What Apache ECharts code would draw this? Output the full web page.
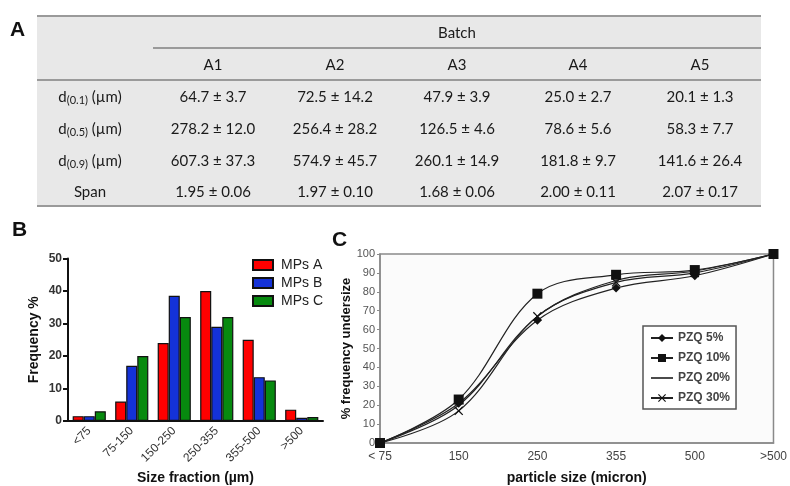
<!DOCTYPE html>
<html><head><meta charset="utf-8">
<script src="https://cdn.jsdelivr.net/npm/echarts@6/dist/echarts.min.js"></script>
<style>html,body{margin:0;padding:0;background:#fff}#c{width:790px;height:486px}</style>
</head><body><div id="c"></div>
<script>
// ---- Table A data ----
const batchHeader = 'Batch';
const batches = ['A1', 'A2', 'A3', 'A4', 'A5'];
const rowLabels = [['d', '(0.1)', ' (µm)'], ['d', '(0.5)', ' (µm)'], ['d', '(0.9)', ' (µm)'], ['Span', '', '']];
const rowD01 = ['64.7 ± 3.7', '72.5 ± 14.2', '47.9 ± 3.9', '25.0 ± 2.7', '20.1 ± 1.3'];
const rowD05 = ['278.2 ± 12.0', '256.4 ± 28.2', '126.5 ± 4.6', '78.6 ± 5.6', '58.3 ± 7.7'];
const rowD09 = ['607.3 ± 37.3', '574.9 ± 45.7', '260.1 ± 14.9', '181.8 ± 9.7', '141.6 ± 26.4'];
const rowSpan = ['1.95 ± 0.06', '1.97 ± 0.10', '1.68 ± 0.06', '2.00 ± 0.11', '2.07 ± 0.17'];
const tableRows = [rowD01, rowD05, rowD09, rowSpan];

// ---- Panel B data ----
const sizeFractions = ['<75', '75-150', '150-250', '250-355', '355-500', '>500'];
const mpsA = [1.5, 6, 24, 40, 25, 3.5];
const mpsB = [1.5, 17, 38.5, 29, 13.5, 1];
const mpsC = [3, 20, 32, 32, 12.5, 1.2];
const freqTicks = [0, 10, 20, 30, 40, 50];

// ---- Panel C data ----
const particleSizes = ['< 75', '150', '250', '355', '500', '>500'];
const pzq5 = [0, 21, 65, 82, 88.5, 100];
const pzq10 = [0, 23, 79, 89, 91.5, 100];
const pzq20 = [0, 20, 67, 86, 91, 100];
const pzq30 = [0, 17, 67, 85, 90, 100];
const undersizeTicks = [0, 10, 20, 30, 40, 50, 60, 70, 80, 90, 100];

const chart = echarts.init(document.getElementById('c'), null, {renderer: 'canvas'});

const tFont = 'Lato, "Noto Sans", sans-serif';
const colX = [213, 335, 457, 578, 700];
const rowY = [97, 129, 161, 192];
const graphics = [];
// table background and rules
graphics.push({type: 'rect', shape: {x: 37, y: 16, width: 724, height: 190}, style: {fill: '#e8e8e8'}, silent: true});
graphics.push({type: 'line', shape: {x1: 37, y1: 16, x2: 761, y2: 16}, style: {stroke: '#9a9a9a', lineWidth: 2}});
graphics.push({type: 'line', shape: {x1: 153, y1: 48, x2: 761, y2: 48}, style: {stroke: '#9a9a9a', lineWidth: 2}});
graphics.push({type: 'line', shape: {x1: 37, y1: 80, x2: 761, y2: 80}, style: {stroke: '#9a9a9a', lineWidth: 2}});
graphics.push({type: 'line', shape: {x1: 37, y1: 206, x2: 761, y2: 206}, style: {stroke: '#9a9a9a', lineWidth: 2}});
const cellFont = '15px ' + tFont;
graphics.push({type: 'text', x: 457, y: 33, style: {text: batchHeader, fill: '#1a1a1a', font: cellFont, textAlign: 'center', textVerticalAlign: 'middle'}});
batches.forEach((b, i) => graphics.push({type: 'text', x: colX[i], y: 65, style: {text: b, fill: '#1a1a1a', font: cellFont, textAlign: 'center', textVerticalAlign: 'middle'}}));
rowLabels.forEach((r, j) => {
  graphics.push({type: 'text', x: 90, y: rowY[j], style: {
    text: r[1] ? '{m|' + r[0] + '}{s|' + r[1] + '}{m|' + r[2] + '}' : '{m|' + r[0] + '}',
    rich: {m: {fontSize: 15, fontFamily: tFont, fill: '#1a1a1a', color: '#1a1a1a'}, s: {fontSize: 11, fontFamily: tFont, color: '#1a1a1a', fill: '#1a1a1a', padding: [7, 0, 0, 0]}},
    textAlign: 'center', textVerticalAlign: 'middle'}});
});
tableRows.forEach((row, j) => row.forEach((v, i) => graphics.push({type: 'text', x: colX[i], y: rowY[j], style: {text: v, fill: '#1a1a1a', font: cellFont, textAlign: 'center', textVerticalAlign: 'middle'}})));
// panel letters
const pl = 'bold 21px Arial, "Liberation Sans", sans-serif';
graphics.push({type: 'text', x: 10, y: 20, style: {text: 'A', font: pl, fill: '#111'}});
graphics.push({type: 'text', x: 12, y: 220, style: {text: 'B', font: pl, fill: '#111'}});
graphics.push({type: 'text', x: 332, y: 230, style: {text: 'C', font: pl, fill: '#111'}});

const arial = 'Arial, "Liberation Sans", sans-serif';
const plainLineIcon = 'path://M0,0L22,0L22,0.01Z M0,4.3L22,4.3L22,5.7L0,5.7Z M0,9.99L22,9.99L22,10Z';
const option = {
  backgroundColor: '#fff',
  animation: false,
  graphic: graphics,
  legend: [
    {data: ['MPs A', 'MPs B', 'MPs C'], orient: 'vertical', left: 247, top: 253, icon: 'rect', itemWidth: 20, itemHeight: 10, itemGap: 4,
     textStyle: {fontFamily: arial, fontSize: 14, color: '#222', padding: [0, 0, 0, 3]}, selectedMode: false},
    {data: ['PZQ 5%', 'PZQ 10%', {name: 'PZQ 20%', icon: plainLineIcon}, 'PZQ 30%'], orient: 'vertical', left: 643, top: 326, itemWidth: 22, itemHeight: 10, itemGap: 8,
     padding: [6, 6, 5, 7], borderColor: '#555', borderWidth: 1.5, backgroundColor: '#fff',
     textStyle: {fontFamily: arial, fontSize: 12, fontWeight: 'bold', color: '#444'}, selectedMode: false}
  ],
  grid: [
    {left: 68, top: 258.5, width: 255, height: 167.5},
    {left: 380, top: 254, width: 399, height: 193, show: true, backgroundColor: '#fbfbfb', borderColor: '#8a8a8a', borderWidth: 1.5}
  ],
  xAxis: [
    {type: 'category', gridIndex: 0, data: sizeFractions,
     axisLine: {lineStyle: {color: '#111', width: 2}}, axisTick: {alignWithLabel: true, length: 5, lineStyle: {color: '#111', width: 2}},
     axisLabel: {rotate: 45, fontFamily: arial, fontSize: 12, color: '#333', margin: 8, interval: 0},
     name: 'Size fraction (µm)', nameLocation: 'middle', nameGap: 50,
     nameTextStyle: {fontFamily: arial, fontSize: 14, fontWeight: 'bold', color: '#111'}},
    {type: 'category', gridIndex: 1, data: particleSizes, boundaryGap: false,
     axisLine: {lineStyle: {color: '#8a8a8a', width: 1.5}}, axisTick: {show: false},
     axisLabel: {fontFamily: arial, fontSize: 12, color: '#444', margin: 8, interval: 0},
     name: 'particle size (micron)', nameLocation: 'middle', nameGap: 28,
     nameTextStyle: {fontFamily: arial, fontSize: 14, fontWeight: 'bold', color: '#111'}}
  ],
  yAxis: [
    {type: 'value', gridIndex: 0, min: freqTicks[0], max: freqTicks[freqTicks.length - 1], interval: 10,
     axisLine: {show: true, lineStyle: {color: '#111', width: 2}}, axisTick: {show: true, length: 5, lineStyle: {color: '#111', width: 2}},
     splitLine: {show: false},
     axisLabel: {fontFamily: arial, fontSize: 12, fontWeight: 'bold', color: '#333', margin: 6},
     name: 'Frequency %', nameLocation: 'middle', nameGap: 27,
     nameTextStyle: {fontFamily: arial, fontSize: 14, fontWeight: 'bold', color: '#111'}},
    {type: 'value', gridIndex: 1, min: undersizeTicks[0], max: undersizeTicks[undersizeTicks.length - 1], interval: 10,
     axisLine: {show: true, lineStyle: {color: '#8a8a8a', width: 1.5}}, axisTick: {show: true, length: 3, lineStyle: {color: '#8a8a8a'}},
     splitLine: {show: false},
     axisLabel: {fontFamily: arial, fontSize: 11, color: '#555', margin: 5},
     name: '% frequency undersize', nameLocation: 'middle', nameGap: 22,
     nameTextStyle: {fontFamily: arial, fontSize: 13, fontWeight: 'bold', color: '#111'}}
  ],
  series: [
    {name: 'MPs A', type: 'bar', xAxisIndex: 0, yAxisIndex: 0, data: mpsA, barGap: '0%', barCategoryGap: '22%',
     itemStyle: {color: '#ff0000', borderColor: '#111', borderWidth: 1.2}},
    {name: 'MPs B', type: 'bar', xAxisIndex: 0, yAxisIndex: 0, data: mpsB, barGap: '0%', barCategoryGap: '22%',
     itemStyle: {color: '#1432d8', borderColor: '#111', borderWidth: 1.2}},
    {name: 'MPs C', type: 'bar', xAxisIndex: 0, yAxisIndex: 0, data: mpsC, barGap: '0%', barCategoryGap: '22%',
     itemStyle: {color: '#078a0f', borderColor: '#111', borderWidth: 1.2}},
    {name: 'PZQ 5%', type: 'line', xAxisIndex: 1, yAxisIndex: 1, data: pzq5, smooth: 0.35, symbol: 'diamond', symbolSize: 9, clip: false,
     lineStyle: {color: '#222', width: 1.2}, itemStyle: {color: '#111'}},
    {name: 'PZQ 10%', type: 'line', xAxisIndex: 1, yAxisIndex: 1, data: pzq10, smooth: 0.35, symbol: 'rect', symbolSize: 10, clip: false,
     lineStyle: {color: '#222', width: 1.2}, itemStyle: {color: '#111'}},
    {name: 'PZQ 20%', type: 'line', xAxisIndex: 1, yAxisIndex: 1, data: pzq20, smooth: 0.35, symbol: 'none', clip: false,
     lineStyle: {color: '#222', width: 1.2}, itemStyle: {color: '#111'}},
    {name: 'PZQ 30%', type: 'line', xAxisIndex: 1, yAxisIndex: 1, data: pzq30, smooth: 0.35, clip: false,
     symbol: 'path://M0,1L1,0L5,4L9,0L10,1L6,5L10,9L9,10L5,6L1,10L0,9L4,5Z', symbolSize: 9,
     lineStyle: {color: '#222', width: 1.2}, itemStyle: {color: '#111'}}
  ]
};
chart.setOption(option);
</script></body></html>
